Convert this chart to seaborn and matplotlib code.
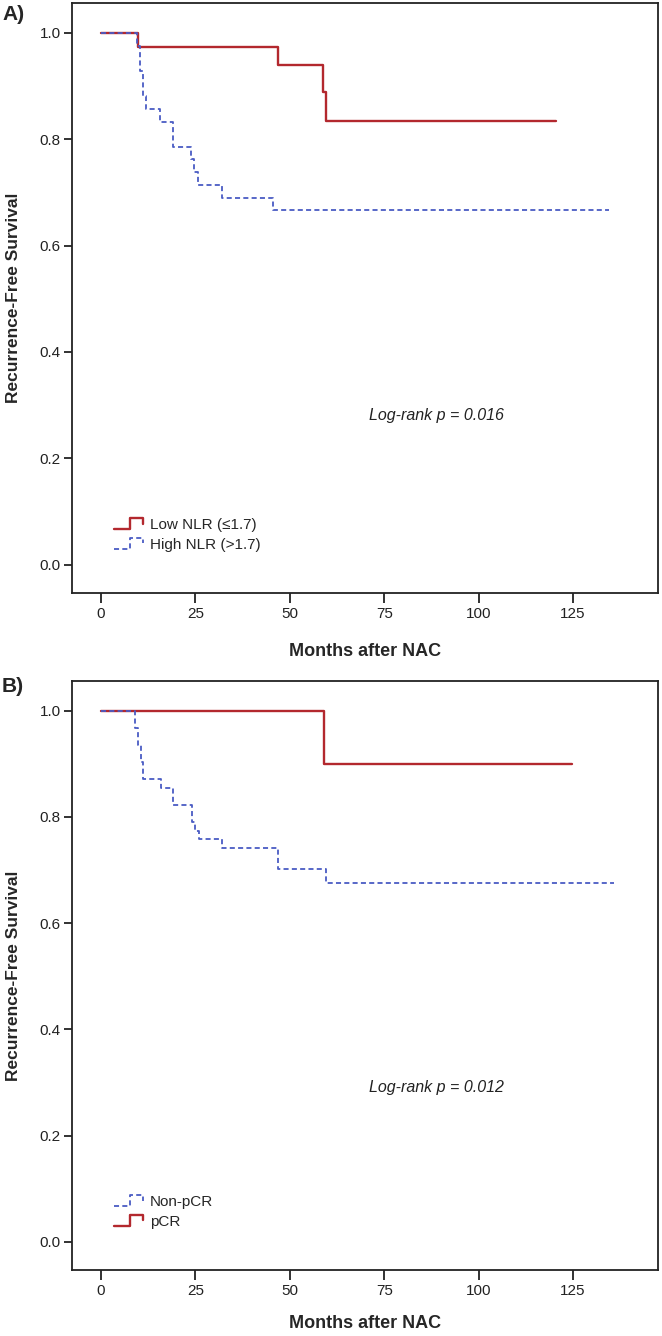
import numpy as np
import pandas as pd
import matplotlib
matplotlib.use('Agg')
import matplotlib.pyplot as plt
import seaborn as sns
from matplotlib.lines import Line2D
from matplotlib.legend_handler import HandlerBase

# Kaplan-Meier step values (time in months, survival after that time)
low_nlr_t = [0, 9.9, 46.8, 58.7, 59.6, 120.5]
low_nlr_s = [1.0, 0.973, 0.940, 0.888, 0.835, 0.835]

high_nlr_t = [0, 9.4, 10.2, 11.0, 11.9, 15.6, 19.0, 23.7, 24.5, 25.6, 32.0, 45.6, 134.5]
high_nlr_s = [1.0, 0.976, 0.929, 0.881, 0.857, 0.833, 0.786, 0.762, 0.738, 0.714, 0.690, 0.667, 0.667]

nonpcr_t = [0, 9.0, 9.8, 10.5, 11.2, 15.8, 19.1, 24.0, 24.8, 26.0, 32.0, 46.8, 59.7, 135.8]
nonpcr_s = [1.0, 0.968, 0.935, 0.903, 0.871, 0.855, 0.822, 0.790, 0.774, 0.758, 0.742, 0.702, 0.676, 0.676]

pcr_t = [0, 59.0, 124.6]
pcr_s = [1.0, 0.900, 0.900]

x_ticks = [0, 25, 50, 75, 100, 125]
y_ticks = [0.0, 0.2, 0.4, 0.6, 0.8, 1.0]

RED = '#b3282e'
BLUE = '#4a5cc4'

sns.set_style('white')
plt.rcParams['font.family'] = ['Liberation Sans', 'DejaVu Sans']


class StepHandler(HandlerBase):
    # SPSS style legend key: a little step
    def create_artists(self, legend, orig_handle, xdescent, ydescent,
                       width, height, fontsize, trans):
        xs = np.array([0, 0.55, 0.55, 1.0, 1.0]) * width - xdescent
        ys = np.array([0.05, 0.05, 1.0, 1.0, 0.5]) * height - ydescent
        line = Line2D(xs, ys)
        self.update_prop(line, orig_handle, legend)
        line.set_transform(trans)
        return [line]


def km_frame(t, s, name):
    return pd.DataFrame({'Months': t, 'Survival': s, 'group': name})


def style_axes(ax, xlab_y):
    ax.set_xlim(-7.7, 147.5)
    ax.set_ylim(-0.053, 1.056)
    ax.set_xticks(x_ticks)
    ax.set_yticks(y_ticks)
    ax.set_yticklabels([f'{v:.1f}' for v in y_ticks])
    for sp in ax.spines.values():
        sp.set_visible(True)
        sp.set_color('#222222')
        sp.set_linewidth(1.3)
    ax.tick_params(axis='x', bottom=True, direction='out', length=7.2, width=1.3,
                   pad=3, labelsize=11, colors='#222222')
    ax.tick_params(axis='y', left=True, direction='out', length=6, width=1.3,
                   pad=2, labelsize=11, colors='#222222')
    ax.set_xlabel('Months after NAC', fontsize=13, fontweight='bold')
    ax.set_ylabel('Recurrence-Free Survival', fontsize=12.5, fontweight='bold')
    ax.xaxis.set_label_coords(0.5, xlab_y)
    ax.yaxis.set_label_coords(-0.087, 0.5)
    ax.grid(False)


def draw_panel(ax, groups, order, pval, xlab_y):
    df = pd.concat([km_frame(t, s, n) for t, s, n, c, d in groups])
    palette = {n: c for t, s, n, c, d in groups}
    dashes = {n: d for t, s, n, c, d in groups}
    sns.lineplot(data=df, x='Months', y='Survival', hue='group', style='group',
                 palette=palette, dashes=dashes, estimator=None, sort=False,
                 drawstyle='steps-post', legend=False, ax=ax)
    for ln, (t, s, n, c, d) in zip(ax.get_lines(), groups):
        ln.set_linewidth(1.7 if d == '' else 1.3)
    style_axes(ax, xlab_y)
    ax.text(71, pval[1], pval[0], fontsize=11.5, style='italic', color='#222222',
            va='center', ha='left')
    handles = []
    for n in order:
        g = [x for x in groups if x[2] == n][0]
        if g[4] == '':
            h = Line2D([], [], color=g[3], lw=1.7)
        else:
            h = Line2D([], [], color=g[3], lw=1.3, dashes=g[4])
        handles.append(h)
    ax.legend(handles, order, handler_map={Line2D: StepHandler()},
              loc='lower left', bbox_to_anchor=(0.072, 0.07), frameon=False,
              fontsize=11, handlelength=1.9, handleheight=0.8, handletextpad=0.45,
              labelspacing=0.35, borderpad=0, borderaxespad=0)


fig = plt.figure(figsize=(6.62, 13.36), dpi=100)
W, H = 662, 1336
ax1 = fig.add_axes([72 / W, 1 - 593 / H, 586 / W, 590 / H])
ax2 = fig.add_axes([72 / W, 1 - 1270 / H, 586 / W, 589 / H])

draw_panel(ax1,
           [(low_nlr_t, low_nlr_s, 'Low NLR (≤1.7)', RED, ''),
            (high_nlr_t, high_nlr_s, 'High NLR (>1.7)', BLUE, (2.8, 1.8))],
           ['Low NLR (≤1.7)', 'High NLR (>1.7)'],
           ('Log-rank p = 0.016', 0.28), -0.085)

draw_panel(ax2,
           [(pcr_t, pcr_s, 'pCR', RED, ''),
            (nonpcr_t, nonpcr_s, 'Non-pCR', BLUE, (2.8, 1.8))],
           ['Non-pCR', 'pCR'],
           ('Log-rank p = 0.012', 0.29), -0.076)

fig.text(0.003, 1 - 15 / H, 'A)', fontsize=15, fontweight='bold', va='center', ha='left')
fig.text(0.003, 1 - 686 / H, 'B)', fontsize=15, fontweight='bold', va='center', ha='left')

fig.savefig('out.png', dpi=100, facecolor='white')
